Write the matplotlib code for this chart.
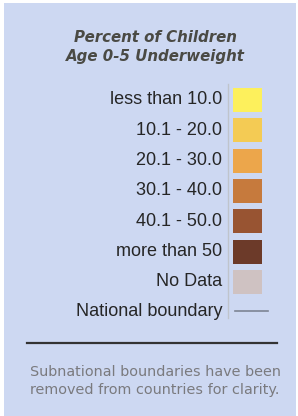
import matplotlib.pyplot as plt

# legend contents
titulo = ["Percent of Children", "Age 0-5 Underweight"]
categorias = ["less than 10.0", "10.1 - 20.0", "20.1 - 30.0", "30.1 - 40.0",
              "40.1 - 50.0", "more than 50", "No Data"]
colores = ["#fdf05c", "#f4cb54", "#eca64b", "#c67a3d", "#985432", "#6c3a29", "#cfc2c2"]
nota = ["Subnational boundaries have been", "removed from countries for clarity."]

fig = plt.figure(figsize=(2.98, 4.16), dpi=100)
fig.patch.set_facecolor("white")
ax = fig.add_axes([0, 0, 1, 1])
ax.set_xlim(0, 298)
ax.set_ylim(416, 0)
ax.axis("off")

# fondo azul claro
ax.add_patch(plt.Rectangle((4, 3), 292, 413, facecolor="#cdd8f2", edgecolor="none"))

# titulo
for i, t in enumerate(titulo):
    ax.text(155, 38 + 19 * i, t, ha="center", va="center", fontsize=10.8,
            fontstyle="italic", fontweight="bold", color="#4a4a44", family="DejaVu Sans")

# filas de colores
filas_y = [100 + 30.3 * i for i in range(6)] + [282]
ax.barh(filas_y, [29] * len(colores), left=233, height=24, color=colores)
for y, c in zip(filas_y, categorias):
    ax.text(222, y, c, ha="right", va="center", fontsize=13, color="#262626",
            family="Liberation Sans")

# linea vertical tenue
ax.plot([228, 228], [84, 318], color="#bfc4cc", lw=1)

# limite nacional
ax.text(222, 311, "National boundary", ha="right", va="center", fontsize=13,
        color="#262626", family="Liberation Sans")
ax.plot([235, 268], [311, 311], color="#7d8494", lw=1.2)

# separador
ax.plot([27, 277], [343, 343], color="#333333", lw=1.6)

for i, t in enumerate(nota):
    ax.text(155, 372 + 18 * i, t, ha="center", va="center", fontsize=10.4,
            color="#7a7a7e", family="DejaVu Sans")

fig.savefig("out.png", dpi=100)
